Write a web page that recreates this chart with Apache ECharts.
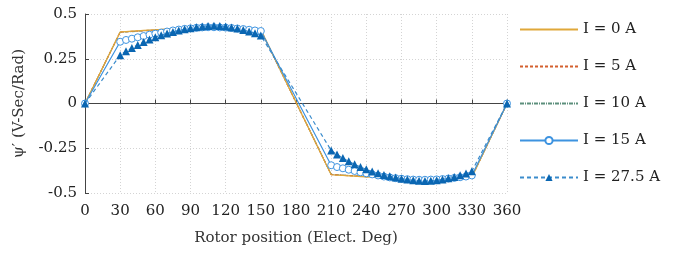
<!DOCTYPE html>
<html>
<head>
<meta charset="utf-8">
<script src="https://cdn.jsdelivr.net/npm/echarts@6/dist/echarts.min.js"></script>
<style>
html,body{margin:0;padding:0;background:#fff;}
#chart{width:689px;height:253px;}
</style>
</head>
<body>
<div id="chart"></div>
<script>
// rotor position (elect. deg)
var pos = [0,
    30,35,40,45,50,55,60,65,70,75,80,85,90,95,100,105,110,115,120,125,130,135,140,145,150,
    210,215,220,225,230,235,240,245,250,255,260,265,270,275,280,285,290,295,300,305,310,315,320,325,330,
    360];

var psi0 = [0,
    0.400,0.402,0.404,0.406,0.408,0.410,0.412,0.414,0.416,0.418,0.420,0.421,0.422,0.423,0.424,0.425,0.426,0.426,0.425,0.424,0.422,0.420,0.418,0.415,0.412,
    -0.398,-0.400,-0.402,-0.404,-0.406,-0.408,-0.410,-0.412,-0.414,-0.416,-0.418,-0.420,-0.421,-0.422,-0.423,-0.424,-0.425,-0.426,-0.426,-0.425,-0.424,-0.422,-0.419,-0.416,-0.412,
    0];
var psi5 = [0,
    0.399,0.401,0.403,0.405,0.407,0.409,0.411,0.413,0.415,0.417,0.419,0.420,0.421,0.422,0.423,0.424,0.425,0.425,0.424,0.423,0.421,0.419,0.417,0.414,0.411,
    -0.397,-0.399,-0.401,-0.403,-0.405,-0.407,-0.409,-0.411,-0.413,-0.415,-0.417,-0.419,-0.420,-0.421,-0.422,-0.423,-0.424,-0.425,-0.425,-0.424,-0.423,-0.421,-0.418,-0.415,-0.411,
    0];
var psi10 = [0,
    0.398,0.400,0.402,0.404,0.406,0.408,0.410,0.412,0.414,0.416,0.418,0.419,0.420,0.421,0.422,0.423,0.424,0.424,0.423,0.422,0.420,0.418,0.416,0.413,0.410,
    -0.396,-0.398,-0.400,-0.402,-0.404,-0.406,-0.408,-0.410,-0.412,-0.414,-0.416,-0.418,-0.419,-0.420,-0.421,-0.422,-0.423,-0.424,-0.424,-0.423,-0.422,-0.420,-0.417,-0.414,-0.410,
    0];
var psi15 = [0,
    0.345,0.355,0.362,0.370,0.377,0.384,0.390,0.396,0.402,0.408,0.413,0.417,0.420,0.423,0.425,0.426,0.426,0.425,0.424,0.422,0.419,0.416,0.412,0.408,0.405,
    -0.345,-0.355,-0.362,-0.370,-0.377,-0.384,-0.390,-0.396,-0.402,-0.408,-0.413,-0.417,-0.420,-0.423,-0.425,-0.426,-0.426,-0.425,-0.424,-0.422,-0.419,-0.416,-0.412,-0.408,-0.402,
    0];
var psi275 = [0,
    0.270,0.292,0.310,0.327,0.343,0.357,0.370,0.381,0.391,0.400,0.408,0.415,0.421,0.426,0.430,0.433,0.434,0.433,0.430,0.425,0.419,0.411,0.402,0.392,0.380,
    -0.262,-0.285,-0.305,-0.323,-0.340,-0.355,-0.368,-0.380,-0.390,-0.399,-0.407,-0.414,-0.420,-0.425,-0.429,-0.432,-0.433,-0.432,-0.429,-0.424,-0.418,-0.410,-0.401,-0.391,-0.379,
    0];

var seriesNames = ['I = 0 A', 'I = 5 A', 'I = 10 A', 'I = 15 A', 'I = 27.5 A'];

function pairs(ys) {
    var out = [];
    for (var i = 0; i < pos.length; i++) {
        out.push([pos[i], ys[i]]);
    }
    return out;
}

var serif = 'DejaVu Serif';
var noMark = {color: 'rgba(0,0,0,0)', borderColor: 'rgba(0,0,0,0)', borderWidth: 0};
var myChart = echarts.init(document.getElementById('chart'));

var option = {
    animation: false,
    textStyle: {fontFamily: serif},
    grid: {left: 85, right: 182, top: 14, bottom: 60},
    legend: {
        orient: 'vertical',
        left: 514,
        top: 17,
        itemWidth: 58,
        itemHeight: 9,
        itemGap: 22,
        textStyle: {fontFamily: serif, fontSize: 15, color: '#222'},
        data: [
            {name: seriesNames[0], itemStyle: noMark},
            {name: seriesNames[1], itemStyle: noMark},
            {name: seriesNames[2], itemStyle: noMark},
            {name: seriesNames[3]},
            {name: seriesNames[4]}
        ]
    },
    xAxis: {
        type: 'value',
        min: 0,
        max: 360,
        interval: 30,
        name: 'Rotor position (Elect. Deg)',
        nameLocation: 'middle',
        nameGap: 38,
        nameTextStyle: {fontFamily: serif, fontSize: 15, color: '#333'},
        axisLine: {lineStyle: {color: '#444', width: 1}},
        axisTick: {inside: true, length: 4, lineStyle: {color: '#444'}},
        axisLabel: {fontFamily: serif, fontSize: 15, color: '#222', margin: 11},
        splitLine: {show: true, lineStyle: {color: '#d4d4d4', type: [1, 2]}}
    },
    yAxis: {
        type: 'value',
        min: -0.5,
        max: 0.5,
        interval: 0.25,
        name: 'ψ′ (V-Sec/Rad)',
        nameLocation: 'middle',
        nameGap: 58,
        nameTextStyle: {fontFamily: serif, fontSize: 15, color: '#333'},
        axisLine: {show: true, lineStyle: {color: '#444', width: 1}},
        axisTick: {show: true, inside: true, length: 4, lineStyle: {color: '#444'}},
        axisLabel: {fontFamily: serif, fontSize: 15, color: '#222', margin: 8,
            formatter: function (v) { return String(v); }},
        splitLine: {show: true, lineStyle: {color: '#d4d4d4', type: [1, 2]}}
    },
    series: [
        {
            name: seriesNames[0], type: 'line', data: pairs(psi0),
            symbol: 'circle', showSymbol: false, z: 5,
            lineStyle: {color: '#e0a83a', width: 1.2},
            itemStyle: {color: '#e0a83a'}
        },
        {
            name: seriesNames[1], type: 'line', data: pairs(psi5),
            symbol: 'circle', showSymbol: false, z: 4,
            lineStyle: {color: '#d4602e', width: 1.2, type: [3, 2]},
            itemStyle: {color: '#d4602e'}
        },
        {
            name: seriesNames[2], type: 'line', data: pairs(psi10),
            symbol: 'circle', showSymbol: false, z: 3,
            lineStyle: {color: '#5c8f7c', width: 1.2, type: [4, 1, 1, 1]},
            itemStyle: {color: '#5c8f7c'}
        },
        {
            name: seriesNames[3], type: 'line', data: pairs(psi15),
            symbol: 'circle', symbolSize: 7, showAllSymbol: true, z: 6,
            lineStyle: {color: '#3d93e0', width: 1.2},
            itemStyle: {color: '#ffffff', borderColor: '#3d93e0', borderWidth: 1}
        },
        {
            name: seriesNames[4], type: 'line', data: pairs(psi275),
            symbol: 'triangle', symbolSize: 8, showAllSymbol: true, z: 7,
            lineStyle: {color: '#3b8ccc', width: 1.2, type: [4, 3]},
            itemStyle: {color: '#0a66b2', borderWidth: 0}
        }
    ]
};

myChart.setOption(option);
</script>
</body>
</html>
